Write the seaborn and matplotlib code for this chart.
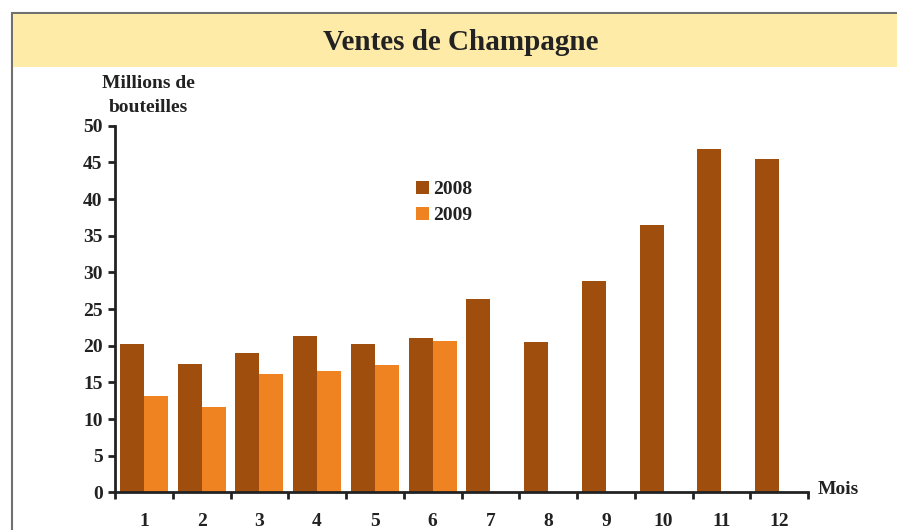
import matplotlib
matplotlib.use("Agg")
import matplotlib.pyplot as plt
import matplotlib.patches as mpatches
import seaborn as sns
import pandas as pd
import numpy as np

# ---- data ----
mois = ["1", "2", "3", "4", "5", "6", "7", "8", "9", "10", "11", "12"]
ventes_2008 = [20.2, 17.5, 19.0, 21.3, 20.3, 21.1, 26.4, 20.5, 28.8, 36.4, 46.9, 45.5]
ventes_2009 = [13.2, 11.7, 16.2, 16.6, 17.4, 20.7, np.nan, np.nan, np.nan, np.nan, np.nan, np.nan]
series = ["2008", "2009"]
couleurs = ["#A04E0E", "#EF8322"]
y_ticks = [0, 5, 10, 15, 20, 25, 30, 35, 40, 45, 50]

df = pd.DataFrame({
    "Mois": mois * 2,
    "Année": [series[0]] * len(mois) + [series[1]] * len(mois),
    "Valeur": ventes_2008 + ventes_2009,
})

sns.set_theme(style="white")
plt.rcParams["font.family"] = ["Liberation Serif", "DejaVu Serif"]
plt.rcParams["font.weight"] = "bold"

W, H = 897, 530
fig = plt.figure(figsize=(W / 100, H / 100), dpi=100)
fig.patch.set_facecolor("white")

def fx(px):
    return px / W

def fy(py):
    return 1 - py / H

# frame and title banner
fig.patches.append(mpatches.Rectangle((fx(12), fy(600)), fx(1000), fy(13) - fy(600),
                                      transform=fig.transFigure, facecolor="white",
                                      edgecolor="#707070", linewidth=1.5, zorder=-2))
fig.patches.append(mpatches.Rectangle((fx(12.8), fy(67)), fx(900), fy(13.8) - fy(67),
                                      transform=fig.transFigure, facecolor="#FEEBA8",
                                      edgecolor="none", zorder=-1))
fig.text(fx(461), fy(42), "Ventes de Champagne", ha="center", va="center",
         fontsize=21, fontweight="bold", color="#222222")

ax = fig.add_axes([fx(115), fy(492.3), fx(808) - fx(115), fy(125.8) - fy(492.3)])
ax.set_facecolor("none")
ax.set_zorder(3)

sns.barplot(data=df, x="Mois", y="Valeur", hue="Année", order=mois, hue_order=series,
            palette=couleurs, saturation=1, width=0.83, gap=0, linewidth=0,
            edgecolor="none", ax=ax, legend=True)

ax.set_xlim(-0.5, len(mois) - 0.5)
ax.set_ylim(0, 50)
ax.set_xlabel("")
ax.set_ylabel("")

for s in ["top", "right"]:
    ax.spines[s].set_visible(False)
for s in ["left", "bottom"]:
    ax.spines[s].set_color("#222222")
    ax.spines[s].set_linewidth(2)

ax.set_yticks(y_ticks)
ax.set_yticklabels([str(v) for v in y_ticks], fontsize=14, fontweight="bold", color="#222222")
ax.tick_params(axis="y", direction="out", length=5, width=2, color="#222222", pad=4, left=True)

# category boundaries as major ticks, labels at centres as minor ticks
ax.set_xticks(np.arange(-0.5, len(mois), 1.0))
ax.set_xticklabels([])
ax.set_xticks(np.arange(len(mois)), minor=True)
ax.set_xticklabels(mois, minor=True, fontsize=14, fontweight="bold", color="#222222")
ax.tick_params(axis="x", which="major", direction="out", length=5, width=2,
               color="#222222", bottom=True)
ax.tick_params(axis="x", which="minor", length=0, pad=15, bottom=True)

leg = ax.legend(loc="upper left", bbox_to_anchor=(fx(416), fy(181)),
                bbox_transform=fig.transFigure, frameon=False, fontsize=14,
                handlelength=0.68, handleheight=0.68, handletextpad=0.2,
                labelspacing=0.42, borderpad=0, borderaxespad=0)
for t in leg.get_texts():
    t.set_fontweight("bold")
    t.set_color("#222222")

fig.text(fx(148), fy(84), "Millions de", ha="center", va="center",
         fontsize=14, fontweight="bold", color="#222222")
fig.text(fx(148), fy(107), "bouteilles", ha="center", va="center",
         fontsize=14, fontweight="bold", color="#222222")
fig.text(fx(818), fy(489), "Mois", ha="left", va="center",
         fontsize=14, fontweight="bold", color="#222222")

fig.savefig("out.png", dpi=100)
